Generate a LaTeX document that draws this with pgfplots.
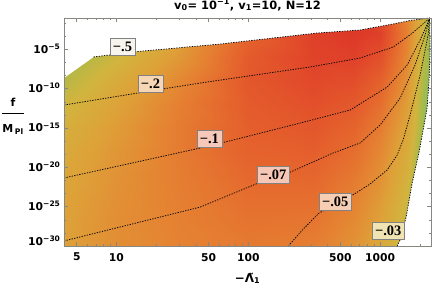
\documentclass[border=0pt]{standalone}
\usepackage{fontspec}
\setmainfont{DejaVu Sans}
\newfontfamily\serifb{Liberation Serif}
\usepackage{pgfplots}
\pgfplotsset{compat=1.18}
\definecolor{framegray}{RGB}{135,135,130}
\definecolor{boxgray}{RGB}{130,130,130}

\begin{document}
\begin{tikzpicture}[font=\fontsize{10.8}{12.5}\selectfont\bfseries,
  cline/.style={black, line width=0.75bp, dash pattern=on 1.3bp off 1.3bp},
  clab/.style={draw=boxgray, line width=0.6bp, inner xsep=3bp, inner ysep=3.5bp,
     font=\fontsize{14.5}{16}\selectfont\serifb\bfseries}]
\begin{axis}[
  scale only axis, width=367bp, height=228bp,
  xmode=log, ymode=log,
  xmin=4, xmax=2430, ymin=1e-30, ymax=1e-1,
  axis on top,
  axis line style={framegray, line width=0.9bp},
  tick style={framegray, line width=0.6bp},
  major tick length=4.5bp, minor tick length=2.5bp,
  tick align=inside,
  xtick={5,10,50,100,500,1000},
  xticklabels={5,10,50,100,500,1000},
  minor xtick={4,6,7,8,9,20,30,40,60,70,80,90,200,300,400,600,700,800,900,2000},
  ytick={1e-30,1e-25,1e-20,1e-15,1e-10,1e-5},
  yticklabels={\raisebox{4bp}{10\textsuperscript{−30}},10\textsuperscript{−25},10\textsuperscript{−20},10\textsuperscript{−15},10\textsuperscript{−10},10\textsuperscript{−5}},
  minor ytick={4.64e-29,2.15e-27,4.64e-24,2.15e-22,4.64e-19,2.15e-17,4.64e-14,2.15e-12,4.64e-9,2.15e-7,4.64e-4,2.15e-2},
  xticklabel style={yshift=-3.5bp},
  yticklabel style={anchor=base east, yshift=-3.9bp},
  colormap={mc}{rgb255(0pt)=(136,190,94); rgb255(15pt)=(170,186,72); rgb255(30pt)=(210,180,62); rgb255(45pt)=(222,160,56); rgb255(60pt)=(229,130,50); rgb255(75pt)=(229,100,45); rgb255(90pt)=(225,72,42); rgb255(100pt)=(220,52,40)},
  point meta min=0, point meta max=1,
  title={v\textsubscript{0}= 10\textsuperscript{−1}, v\textsubscript{1}=10, N=12},
  title style={at={(0.5,1)}, anchor=base, yshift=3bp, inner sep=0pt, font=\fontsize{11.5}{13}\selectfont\bfseries},
  xlabel={−\~{Λ}\textsubscript{1}},
  xlabel style={at={(0.5,0)}, anchor=base, yshift=-36bp, inner sep=0pt, font=\fontsize{12}{14}\selectfont\bfseries},
  ylabel={\begin{tabular}{@{}c@{}}f\\[-5.5bp]\rule{22bp}{0.8bp}\\[6.5bp]M\,\textsubscript{Pl}\end{tabular}},
  ylabel style={rotate=-90, at={(0,0.566)}, anchor=center, xshift=-51bp, font=\fontsize{11}{12.5}\selectfont\bfseries},
]
% colour field
\addplot[surf, shader=interp, mesh/rows=11, mesh/cols=13, point meta=explicit] table[x=x, y=y, meta=m] {
x y m
4 1e-30 0.45
10 1e-30 0.54
31.62 1e-30 0.60
100 1e-30 0.64
316.2 1e-30 0.62
631 1e-30 0.52
1000 1e-30 0.40
1259 1e-30 0.32
1585 1e-30 0.20
1778 1e-30 0.10
1995 1e-30 0.05
2188 1e-30 0.02
2430 1e-30 0.0
4 1e-27 0.44
10 1e-27 0.54
31.62 1e-27 0.61
100 1e-27 0.67
316.2 1e-27 0.66
631 1e-27 0.56
1000 1e-27 0.44
1259 1e-27 0.35
1585 1e-27 0.24
1778 1e-27 0.12
1995 1e-27 0.05
2188 1e-27 0.02
2430 1e-27 0.0
4 1e-24 0.43
10 1e-24 0.53
31.62 1e-24 0.62
100 1e-24 0.70
316.2 1e-24 0.70
631 1e-24 0.60
1000 1e-24 0.48
1259 1e-24 0.39
1585 1e-24 0.29
1778 1e-24 0.15
1995 1e-24 0.05
2188 1e-24 0.02
2430 1e-24 0.0
4 1e-21 0.41
10 1e-21 0.52
31.62 1e-21 0.63
100 1e-21 0.73
316.2 1e-21 0.74
631 1e-21 0.65
1000 1e-21 0.53
1259 1e-21 0.43
1585 1e-21 0.33
1778 1e-21 0.22
1995 1e-21 0.05
2188 1e-21 0.02
2430 1e-21 0.0
4 1e-18 0.38
10 1e-18 0.50
31.62 1e-18 0.64
100 1e-18 0.76
316.2 1e-18 0.78
631 1e-18 0.70
1000 1e-18 0.57
1259 1e-18 0.47
1585 1e-18 0.37
1778 1e-18 0.27
1995 1e-18 0.12
2188 1e-18 0.02
2430 1e-18 0.0
4 1e-15 0.34
10 1e-15 0.47
31.62 1e-15 0.64
100 1e-15 0.78
316.2 1e-15 0.82
631 1e-15 0.75
1000 1e-15 0.63
1259 1e-15 0.52
1585 1e-15 0.41
1778 1e-15 0.32
1995 1e-15 0.18
2188 1e-15 0.02
2430 1e-15 0.0
4 1e-12 0.29
10 1e-12 0.43
31.62 1e-12 0.62
100 1e-12 0.80
316.2 1e-12 0.86
631 1e-12 0.81
1000 1e-12 0.70
1259 1e-12 0.58
1585 1e-12 0.46
1778 1e-12 0.36
1995 1e-12 0.20
2188 1e-12 0.06
2430 1e-12 0.0
4 1e-9 0.20
10 1e-9 0.37
31.62 1e-9 0.58
100 1e-9 0.82
316.2 1e-9 0.90
631 1e-9 0.87
1000 1e-9 0.77
1259 1e-9 0.65
1585 1e-9 0.52
1778 1e-9 0.40
1995 1e-9 0.24
2188 1e-9 0.12
2430 1e-9 0.0
4 1e-6 0.12
10 1e-6 0.28
31.62 1e-6 0.50
100 1e-6 0.80
316.2 1e-6 0.93
631 1e-6 0.94
1000 1e-6 0.86
1259 1e-6 0.72
1585 1e-6 0.57
1778 1e-6 0.45
1995 1e-6 0.30
2188 1e-6 0.18
2430 1e-6 0.0
4 1e-3 0.10
10 1e-3 0.20
31.62 1e-3 0.45
100 1e-3 0.75
316.2 1e-3 0.94
631 1e-3 0.98
1000 1e-3 0.94
1259 1e-3 0.78
1585 1e-3 0.60
1778 1e-3 0.48
1995 1e-3 0.36
2188 1e-3 0.24
2430 1e-3 0.10
4 1e-1 0.10
10 1e-1 0.20
31.62 1e-1 0.45
100 1e-1 0.75
316.2 1e-1 0.94
631 1e-1 0.98
1000 1e-1 0.90
1259 1e-1 0.74
1585 1e-1 0.58
1778 1e-1 0.48
1995 1e-1 0.36
2188 1e-1 0.24
2430 1e-1 0.15
};
% regions outside the domain
\addplot[fill=white, draw=none] coordinates {(4,0.1) (4,2.3e-9) (6.70,1.1e-6) (13.45,4.8e-6) (61.4,4.9e-5) (333,1.23e-3) (705,2.97e-3) (1254,0.0174) (1687,0.048) (2370,0.1)} --cycle;
\addplot[fill=white, draw=none] coordinates {(2430,0.1) (2370,0.1) (2393,8.5e-6) (2350,1.3e-9) (2270,3.5e-13) (2153,2.5e-15) (1973,9.1e-19) (1748,1.02e-22) (1574,4.9e-27) (1418,5.8e-30) (1346,1e-30) (2430,1e-30)} --cycle;
% contours
\addplot[cline] coordinates {(6.70,1.1e-6) (13.45,4.8e-6) (61.4,4.9e-5) (333,1.23e-3) (705,2.97e-3) (1254,0.0174) (1687,0.048) (2370,0.1)};
\addplot[cline] coordinates {(4,8.5e-13) (22.3,9.3e-11) (43.3,5.4e-10) (295,5.9e-8) (705,8.1e-7) (1254,2.0e-5) (1718,9.1e-4) (2153,0.023) (2370,0.1)};
\addplot[cline] coordinates {(4,4.5e-22) (43.3,2.9e-18) (62.4,1.26e-17) (248,4.4e-15) (593,2.0e-13) (1130,1.65e-10) (1603,1.05e-7) (2010,1.6e-4) (2312,0.031) (2370,0.1)};
\addplot[cline] coordinates {(4,4.4e-30) (43.3,9.1e-26) (119,1.02e-22) (201,1.9e-21) (440,6.8e-19) (705,1.26e-17) (1000,2.5e-15) (1418,6.6e-12) (1841,1.05e-7) (2193,6.9e-4) (2370,0.1)};
\addplot[cline] coordinates {(201,1e-30) (261,1.45e-28) (345,1.6e-26) (603,2.3e-24) (839,7.8e-23) (1130,4.7e-21) (1346,3.7e-19) (1493,3.0e-17) (1687,4.6e-14) (2010,5.6e-9) (2312,6.9e-4) (2370,0.1)};
\addplot[cline] coordinates {(1346,1e-30) (1418,5.8e-30) (1574,4.9e-27) (1748,1.02e-22) (1973,9.1e-19) (2153,2.5e-15) (2270,3.5e-13) (2350,1.3e-9) (2393,8.5e-6) (2370,0.1)};
% contour labels
\node[clab, fill={rgb,255:red,246;green,244;blue,236}] at (axis cs:11.1,2.0e-5) {−.5};
\node[clab, fill={rgb,255:red,246;green,214;blue,180}] at (axis cs:18.1,4.1e-10) {−.2};
\node[clab, fill={rgb,255:red,246;green,200;blue,185}] at (axis cs:50.7,4.1e-17) {−.1};
\node[clab, fill={rgb,255:red,246;green,198;blue,182}] at (axis cs:154.6,1.07e-21) {−.07};
\node[clab, fill={rgb,255:red,246;green,206;blue,180}] at (axis cs:456,4.0e-25) {−.05};
\node[clab, fill={rgb,255:red,240;green,228;blue,178}] at (axis cs:1151,9.3e-29) {−.03};
\end{axis}
\pgfresetboundingbox
\path[use as bounding box] ([xshift=-64bp,yshift=-40bp]current axis.south west) rectangle ([xshift=3bp,yshift=18bp]current axis.north east);
\end{tikzpicture}
\end{document}
